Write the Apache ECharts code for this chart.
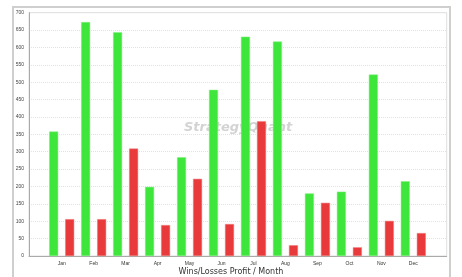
<!DOCTYPE html>
<html>
<head>
<meta charset="utf-8">
<script src="https://cdn.jsdelivr.net/npm/echarts@6/dist/echarts.min.js"></script>
<style>html,body{margin:0;padding:0;background:#fff;}#c{width:462px;height:277px;}</style>
</head>
<body>
<div id="c"></div>
<script>
const months = ['Jan','Feb','Mar','Apr','May','Jun','Jul','Aug','Sep','Oct','Nov','Dec'];
const wins = [358, 673, 644, 199, 284, 478, 631, 617, 180, 185, 522, 215];
const losses = [106, 106, 309, 89, 222, 92, 388, 31, 153, 25, 101, 66];
const yTicks = {min: 0, max: 700, interval: 50};
const xTitle = 'Wins/Losses Profit / Month';
const watermark = 'StrategyQuant';

const chart = echarts.init(document.getElementById('c'));
chart.setOption({
  animation: false,
  graphic: [
    {type: 'rect', z: -10, shape: {x: 13, y: 7, width: 437, height: 290}, style: {fill: '#fff', stroke: '#cfcfcf', lineWidth: 2}},
    {type: 'text', z: -5, left: 184, top: 121, style: {text: watermark, font: 'italic bold 13px "DejaVu Sans"', fill: '#d3d3d3'}},
    {type: 'text', left: 'center', top: 268, style: {text: xTitle, font: '8px "DejaVu Sans"', fill: '#333'}}
  ],
  grid: [
    {left: 29, right: 15.3, top: 12.7, bottom: 21, show: true, borderColor: '#dedede', borderWidth: 1, backgroundColor: 'transparent'},
    {left: 45.7, right: 32.7, top: 12.7, bottom: 21}
  ],
  xAxis: [
    {gridIndex: 0, type: 'value', min: 0, max: 1, axisLine: {show: true, onZero: false, lineStyle: {color: '#aaa'}}, axisTick: {show: false}, axisLabel: {show: false}, splitLine: {show: false}},
    {gridIndex: 1, type: 'category', data: months, axisLine: {show: false}, axisTick: {show: false}, axisLabel: {fontSize: 5, color: '#333', margin: 5}}
  ],
  yAxis: [
    {gridIndex: 0, type: 'value', min: yTicks.min, max: yTicks.max, interval: yTicks.interval,
     axisLine: {show: true, lineStyle: {color: '#aaa'}}, axisTick: {show: false},
     axisLabel: {fontSize: 5, color: '#444', margin: 5},
     splitLine: {show: true, lineStyle: {color: '#e2e2e2', type: 'dotted'}}},
    {gridIndex: 1, type: 'value', min: yTicks.min, max: yTicks.max, interval: yTicks.interval, show: false, splitLine: {show: false}}
  ],
  series: [
    {type: 'bar', z: 5, xAxisIndex: 1, yAxisIndex: 1, data: wins, barWidth: 9, barGap: '78%', itemStyle: {color: '#3ee63c', borderColor: '#7cf07a', borderWidth: 0.5}},
    {type: 'bar', z: 5, xAxisIndex: 1, yAxisIndex: 1, data: losses, barWidth: 9, barGap: '78%', itemStyle: {color: '#e8393b', borderColor: '#f07a7b', borderWidth: 0.5}}
  ]
});
</script>
</body>
</html>
